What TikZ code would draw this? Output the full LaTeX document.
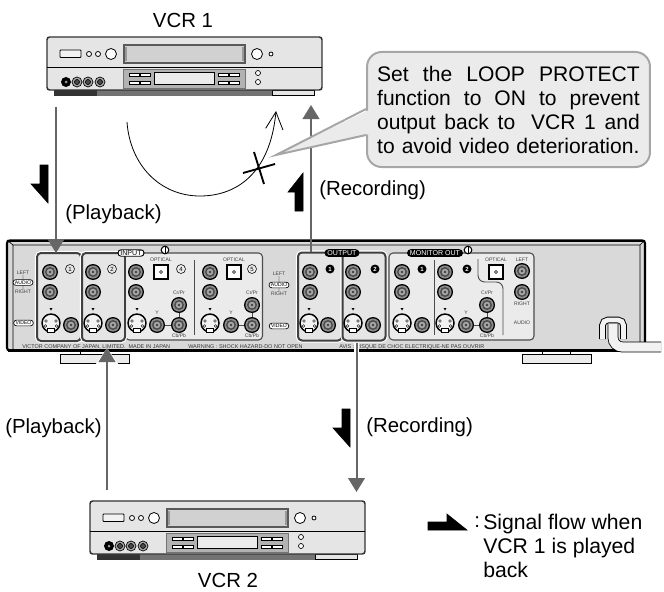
\documentclass[tikz,border=0pt]{standalone}
\usepackage{fontspec}
\setmainfont{Liberation Sans}
\usepackage{tikz}
\usetikzlibrary{shapes.misc}
\usetikzlibrary{arrows.meta}
\newcommand{\px}[1]{#1*0.75pt}
\tikzset{flowline/.style={draw=black!60,line width=1.5pt,
                       -{Triangle[length=10.5pt,width=12.5pt]}}}
\tikzset{halo/.style={preaction={draw=white,line width=3.5pt,-{Triangle[length=12pt,width=16pt]}}}}
\tikzset{flowmark/.style={fill=black}}
\tikzset{caption/.style={font=\fontsize{15.3}{18}\selectfont,inner sep=0pt}}
\tikzset{notebox/.style={draw=black!35,fill=black!8,line width=1.5pt,rounded corners=11pt,
                       font=\fontsize{15.8}{18}\selectfont,text width=197pt,
                       inner xsep=7.6pt,inner ysep=0pt,minimum height=\px{115}}}
\tikzset{tinylabel/.style={font=\fontsize{3.8}{4}\selectfont,inner sep=0pt,text=black!75}}
\tikzset{footlabel/.style={font=\fontsize{4.1}{4}\selectfont,inner sep=0pt,text=black!80,anchor=west}}
\tikzset{tag/.style={rounded rectangle,draw=black,fill=white,line width=.5pt,
                       font=\fontsize{3.8}{4}\selectfont,inner xsep=1pt,inner ysep=.8pt}}
\tikzset{whitepill/.style={rounded rectangle,draw=black,fill=white,line width=.7pt,
                       font=\fontsize{5.3}{6}\selectfont,inner xsep=1pt,inner ysep=.6pt}}
\tikzset{blackpill/.style={rounded rectangle,fill=black,text=white,
                       font=\fontsize{5.3}{6}\selectfont,inner xsep=1.5pt,inner ysep=1pt}}
\tikzset{panel/.style={draw=black!70,fill=black!8,line width=.8pt,rounded corners=3pt}}
\tikzset{jackbox/.style={draw=black!75,fill=black!10,line width=1.5pt,rounded corners=3pt,
                       outer sep=0pt,preaction={draw=white,line width=3.2pt}}}
\tikzset{ringnum/.style={circle,draw=black,fill=none,line width=.4pt,inner sep=0pt,minimum size=\px{9},
                       font=\fontsize{4.5}{5}\selectfont}}
\tikzset{blacknum/.style={circle,fill=black,text=white,inner sep=0pt,minimum size=\px{9},
                       font=\bfseries\fontsize{4.5}{5}\selectfont}}
\tikzset{cord/.style={draw=black,double=black!5,line width=.6pt,double distance=6.9pt}}
\newcommand{\rcajack}[2]{\begin{scope}[shift={(#1,#2)}]
    \fill[black] (0,0) circle (8);
    \fill[black!45] (0,0) circle (6.6);
    \fill[black!70] (0,0) circle (5);
    \fill[black!35] (0,0) circle (3.3);
    \fill[black!75] (0,0) circle (1.4);
  \end{scope}}
\newcommand{\svideo}[2]{\begin{scope}[shift={(#1,#2)}]
    \draw[line width=1.1pt,fill=black!5] (0,0) circle (9);
    \foreach \dx/\dy in {-5/-2,5/-2,-5.5/3,5.5/3}{\draw[line width=.3pt] (\dx,\dy) circle (1.3);}
    \draw[line width=.6pt,fill=white] (-3.5,5) rectangle (3.5,9);
    \fill (-1.5,-15) -- (1.5,-15) -- (0,-12.5) -- cycle;
  \end{scope}}
\newcommand{\optical}[2]{\begin{scope}[shift={(#1,#2)}]
    \draw[line width=1pt,fill=white] (-7,-7) rectangle (7,7);
    \draw[line width=.5pt] (0,0) circle (1.5);
  \end{scope}}
\newcommand{\vcrdeck}[3]{\begin{scope}[shift={(#2,#3)}]
    \fill[black!80] (54,90) rectangle (97,96);
    \fill[black!55] (97,90) rectangle (272,96);
    \draw[line width=.6pt,fill=black!10] (272,90) rectangle (314,95);
    \node[draw=black!80,fill=black!10,line width=1.1pt,rounded corners=2pt,outer sep=0pt,
          minimum width=\px{275},minimum height=\px{53}] (#1) at (184.5,63.5) {};
    \draw[line width=.6pt] (47,67) -- (322,67);
    \draw[line width=.7pt,fill=black!5,rounded corners=.5pt] (60,50) rectangle (81,57.5);
    \foreach \cx/\cr in {89/2.5,98/2.5,111/5.5,257/5.5,271/2}{\draw[line width=.6pt,fill=white] (\cx,54) circle (\cr);}
    \draw[line width=.9pt,draw=black!65,fill=black!18] (124,45) rectangle (245,63);
    \draw[line width=.9pt,draw=black!40] (126,47) -- (126,61) (243,47) -- (243,61);
    \foreach \cx/\cy in {258/73,258/82}{\draw[line width=.5pt,fill=white] (\cx,\cy) circle (2.5);}
    \draw[line width=.7pt,draw=black!55,fill=black!30] (123,69) rectangle (245,88);
    \draw[line width=.6pt,fill=black!8] (154,72) rectangle (214,84);
    \foreach \bx in {129,140,218,229}{
      \foreach \by in {73,81}{\draw[line width=.5pt,fill=white] (\bx,\by) rectangle ++(10,3.5);}}
    \fill[black] (66,82) circle (5);
    \foreach \jx in {77,88,100}{
      \draw[line width=.5pt,fill=black!35] (\jx,82) circle (5);
      \draw[line width=.5pt,fill=black!70] (\jx,82) circle (2.5);}
    \fill[black!40] (66,82) circle (1.5);
  \end{scope}}
\begin{document}
\begin{tikzpicture}[x=0.75pt,y=-0.75pt]
    \useasboundingbox (0,0) rectangle (664,592);
    % VCRs
    \vcrdeck{vcrone}{0}{0}
    \vcrdeck{vcrtwo}{43}{464}
    \node[caption] (vcronelabel) at (183,20.5) {VCR 1};
    \node[caption] (vcrtwolabel) at (228,580.5) {VCR 2};
    % Main unit
    \foreach \fx in {60,522}{
      \draw[line width=.7pt,fill=black!8] (\fx,354) rectangle ++(69,9);
      \draw[line width=.6pt] (\fx+20,351) -- ++(0,3) (\fx+48,351) -- ++(0,3);}
    \node[draw=black,fill=black!15,line width=1.6pt,rounded corners=2pt,outer sep=0pt,
          minimum width=\px{638},minimum height=\px{110}] (unit) at (326,295.5) {};
    \draw[line width=.5pt] (7,240) -- (13,245) -- (13,350) (13,245) -- (640,245) -- (640,350) (640,245) -- (645,240);
    \fill[black] (8,239.5) rectangle (644,242);
    \fill[black] (8,349) rectangle (644,351.5);
    % Panels
    \node[panel,minimum width=\px{137},minimum height=\px{87}] (inpanel) at (194,296.5) {};
    \node[panel,minimum width=\px{145},minimum height=\px{87}] (monpanel) at (461.5,296.5) {};
    \node[jackbox,minimum width=\px{44},minimum height=\px{88}] (inone) at (59,297) {};
    \node[jackbox,minimum width=\px{43},minimum height=\px{88}] (intwo) at (103.5,297) {};
    \node[jackbox,minimum width=\px{44},minimum height=\px{88}] (outone) at (320,296.5) {};
    \node[jackbox,minimum width=\px{43},minimum height=\px{88}] (outtwo) at (364,296.5) {};
    \draw[line width=.7pt,draw=black!70] (194,260) -- (194,335) (434,260) -- (434,335);
    \draw[line width=.7pt,draw=black!70,rounded corners=5pt] (478,259) -- (478,282) -- (503,282) -- (503,335);
    \foreach \kx in {165,468}{
      \draw[line width=.8pt,fill=white] (\kx,250) circle (3.8);
      \draw[line width=.5pt] (\kx,247) -- (\kx,253);}
    % Jacks
    \foreach \jx in {0,73,308}{
      \draw[line width=.7pt,draw=black!70] (157+\jx,325) -- (179+\jx,325) -- (179+\jx,305);
    }
    \foreach \jx/\jy in {50/272,50/292,71/325,93/272,93/292,113/325,
                         136/272,136/292,157/325,179/325,179/305,
                         210/272,210/292,231/325,252/325,252/305,
                         310/272,310/292,328/325,353/272,353/292,373/325,
                         402/272,402/292,422/325,445/272,445/292,466/325,
                         487/325,487/305,522/271,522/292}{
      \rcajack{\jx}{\jy}
    }
    \foreach \jx in {51,93,137,210,309,353,402,445}{
      \svideo{\jx}{323}
    }
    \foreach \jx in {161,234,496}{
      \optical{\jx}{272}
    }
    % Small labels
    \foreach \h [count=\hi] in {1,2,4,5}{
      \pgfmathsetmacro{\nx}{{70,112,181,252}[\hi-1]}
      \node[ringnum] (ring\hi) at (\nx,269) {\h};
    }
    \node[blacknum] (numa) at (330,269) {1};
    \node[blacknum] (numb) at (375,269) {2};
    \node[blacknum] (numc) at (422,269) {1};
    \node[blacknum] (numd) at (467,269) {2};
    \node[whitepill] (inputtag) at (131,253) {INPUT};
    \node[blackpill] (outputtag) at (342,253) {OUTPUT};
    \node[blackpill] (monitortag) at (435,253) {MONITOR OUT};
    \foreach \h/\tx in {a/161,b/234,c/496}{
      \node[tinylabel] (optic\h) at (\tx,260) {OPTICAL};
    }
    \foreach \h/\tx in {a/157,b/231,c/466}{
      \node[tinylabel] (ylabel\h) at (\tx,313) {Y};
    }
    \foreach \h/\tx in {a/179,b/252,c/487}{
      \node[tinylabel] (crlabel\h) at (\tx,293) {Cr/Pr};
      \node[tinylabel] (cblabel\h) at (\tx,336) {Cb/Pb};
    }
    \node[tinylabel] (lefta) at (23,273) {LEFT};
    \node[tinylabel] (righta) at (23,292) {RIGHT};
    \node[tag] (audioa) at (23,282.5) {AUDIO};
    \node[tag] (videoa) at (23.5,323) {VIDEO};
    \draw[line width=.3pt] (lefta) -- (audioa) -- (righta);
    \node[tinylabel] (leftb) at (279,274) {LEFT};
    \node[tinylabel] (rightb) at (279,294) {RIGHT};
    \node[tag] (audiob) at (279,285) {AUDIO};
    \node[tag] (videob) at (279,326) {VIDEO};
    \draw[line width=.3pt] (leftb) -- (audiob) -- (rightb);
    \node[tinylabel] (leftc) at (522,260) {LEFT};
    \node[tinylabel] (rightc) at (522,304) {RIGHT};
    \node[tinylabel] (audioc) at (522,323) {AUDIO};
    \node[footlabel] (foota) at (22,347) {VICTOR COMPANY OF JAPAN, LIMITED.\ \ MADE IN JAPAN};
    \node[footlabel] (footb) at (188,347) {WARNING : SHOCK HAZARD-DO NOT OPEN};
    \node[footlabel] (footc) at (339,347) {AVIS : RISQUE DE CHOC ELECTRIQUE-NE PAS OUVRIR};
    % Power cord
    \draw[cord,line width=.7pt,double distance=3.6pt,rounded corners=4pt] (602.5,339) -- (602.5,320) -- (623.5,320) -- (623.5,339);
    \draw[cord,rounded corners=7pt] (661,347) -- (613,347) -- (613,324);
    % Signal lines
    \coordinate (playtop) at (56,107);
    \coordinate (playfoot) at (107,490);
    \coordinate (recfoot) at (311,252);
    \coordinate (rectop) at (311,105);
    \coordinate (outstart) at (356.5,343);
    \coordinate (outend) at (356.5,492);
    \draw[flowline] (playtop) -- (playtop |- inone.north);
    \draw[flowline,halo] (playfoot) -- (107,348);
    \draw[flowline] (recfoot) -- (rectop);
    \draw[flowline,halo] (outstart) -- (outend);
    \draw[flowmark,fill=black] (40,165) -- (48,165) -- (48,203) -- (31,184) -- (40,184) -- cycle;
    \draw[flowmark,fill=black] (303,173) -- (303,211) -- (295,211) -- (295,192) -- (288,192) -- cycle;
    \draw[flowmark,fill=black] (342,409) -- (350,409) -- (350,447) -- (333,428) -- (342,428) -- cycle;
    \draw[flowmark,fill=black] (428,522) -- (447,522) -- (447,514) -- (467,530) -- (428,530) -- cycle;
    % Loop that is cut
    \draw[line width=.6pt,-{Straight Barb[length=13pt,width=13pt]}] (127,122) .. controls (130,165) and (160,196) .. (200,196)
          .. controls (235,196) and (270,175) .. (276,111);
    \draw[line width=1.4pt] (243,173) -- (275,164) (254,152) -- (264,184);
    % Note
    \node[notebox] (note) at (508.5,109.5) {\hbox to 197pt{Set \hfill the \hfill LOOP \hfill PROTECT}
          \hbox to 197pt{function \hfill to \hfill ON \hfill to \hfill prevent}
          \hbox to 197pt{output \hfill back \hfill to \hfill\ VCR \hfill 1 \hfill and}
          \hbox to 197pt{to avoid video deterioration.}};
    \coordinate (tip) at (276,155);
    \fill[black!8] (369,110) -- (tip) -- (369,134) -- cycle;
    \draw[draw=black!35,line width=1.5pt] (note.west |- 0,109) -- (tip) -- (note.west |- 0,135);
    % Labels
    \node[caption,anchor=west] (playa) at (65,214) {(Playback)};
    \node[caption,anchor=west] (playb) at (5,428) {(Playback)};
    \node[caption,anchor=west] (reca) at (319,190) {(Recording)};
    \node[caption,anchor=west] (recb) at (366,427) {(Recording)};
    \node[caption,anchor=west] (legendcolon) at (474,522) {:};
    \node[caption,anchor=west,align=left,font=\fontsize{15.9}{18}\selectfont] (legend) at (483,546) {Signal flow when\\VCR 1 is played\\back};
\end{tikzpicture}
\end{document}
